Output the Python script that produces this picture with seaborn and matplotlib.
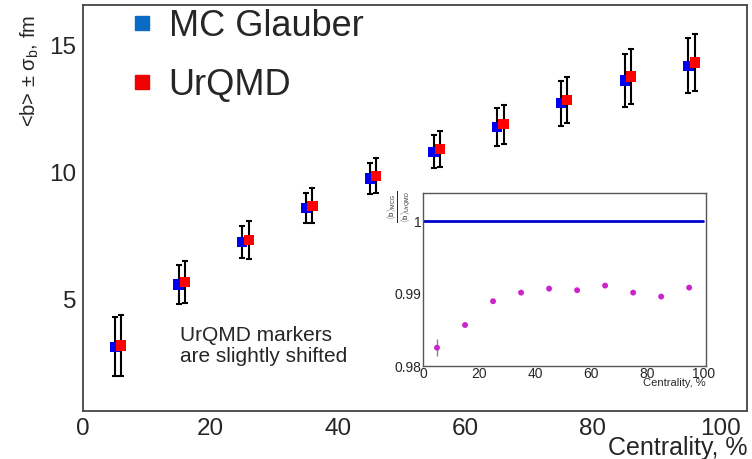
import numpy as np
import pandas as pd
import seaborn as sns
from matplotlib import pyplot as plt
from matplotlib.ticker import MultipleLocator
from matplotlib.lines import Line2D

# centrality bin centres, %
centrality = [5, 15, 25, 35, 45, 55, 65, 75, 85, 95]
urqmd_shift = 1.0

# <b> and sigma_b, fm
b_mcg = [3.13, 5.59, 7.26, 8.60, 9.76, 10.82, 11.80, 12.73, 13.63, 14.21]
sig_mcg = [1.17, 0.76, 0.63, 0.60, 0.60, 0.66, 0.75, 0.89, 1.05, 1.08]
b_urqmd = [3.18, 5.68, 7.34, 8.68, 9.87, 10.92, 11.91, 12.86, 13.78, 14.34]
sig_urqmd = [1.22, 0.84, 0.74, 0.69, 0.69, 0.70, 0.77, 0.92, 1.08, 1.11]

# ratio <b>_MCG / <b>_UrQMD
ratio = [0.98253, 0.98567, 0.98895, 0.99014, 0.99069, 0.99047, 0.99111, 0.99014, 0.98959, 0.99083]
ratio_err = [0.0012, 0.0003, 0.0002, 0.0001, 0.0001, 0.0001, 0.0001, 0.0001, 0.0001, 0.0001]

sns.set_style('white')
plt.rcParams['font.family'] = ['Liberation Sans', 'DejaVu Sans']
plt.rcParams['mathtext.fontset'] = 'custom'
plt.rcParams['mathtext.rm'] = 'Liberation Sans'
plt.rcParams['mathtext.it'] = 'Liberation Sans'

df = pd.DataFrame({
    'c': centrality + [c + urqmd_shift for c in centrality],
    'b': b_mcg + b_urqmd,
    'err': sig_mcg + sig_urqmd,
    'model': ['MC Glauber'] * len(centrality) + ['UrQMD'] * len(centrality),
})

fig = plt.figure(figsize=(7.52, 4.59), dpi=100)
ax = fig.add_axes([0.1104, 0.1046, 0.883, 0.8844])

ax.errorbar(df['c'], df['b'], yerr=df['err'], fmt='none', ecolor='black',
            elinewidth=1.5, capsize=2, capthick=1.5, zorder=2)
sns.scatterplot(data=df, x='c', y='b', hue='model', palette={'MC Glauber': '#0000ee', 'UrQMD': '#ff0000'},
                marker='s', s=55, edgecolor='none', legend=False, ax=ax, zorder=3)

ax.set_xlim(0, 104.2)
ax.set_ylim(0.6, 16.6)
ax.xaxis.set_major_locator(MultipleLocator(20))
ax.xaxis.set_minor_locator(MultipleLocator(10))
ax.yaxis.set_major_locator(MultipleLocator(5))
ax.yaxis.set_minor_locator(MultipleLocator(1))
ax.tick_params(which='both', direction='in', top=False, right=False, color='#333333', width=1.3)
ax.tick_params(which='major', length=14, labelsize=17.5, pad=5)
ax.tick_params(which='minor', length=7)
for sp in ax.spines.values():
    sp.set_color('#444444')
    sp.set_linewidth(1.3)

ax.set_xlabel('Centrality, %', fontsize=18)
ax.xaxis.set_label_coords(1.0, -0.09)
ax.xaxis.label.set_ha('right')
ax.xaxis.label.set_va('center')
ax.set_ylabel('<b> ± σ$_b$, fm', fontsize=14.5)
ax.yaxis.set_label_coords(-0.08, 0.975)
ax.yaxis.label.set_ha('right')
ax.yaxis.label.set_va('center')

handles = [Line2D([], [], marker='s', ls='none', color='#0a6bc4', markersize=10),
           Line2D([], [], marker='s', ls='none', color='#f00000', markersize=10)]
ax.legend(handles, ['MC Glauber', 'UrQMD'], loc='upper left', bbox_to_anchor=(0.023, 1.07),
          frameon=False, fontsize=26, handlelength=0.6, handletextpad=0.45, labelspacing=0.65)

ax.text(0.146, 0.21, 'UrQMD markers\nare slightly shifted', transform=ax.transAxes,
        fontsize=15, va='top', ha='left', linespacing=1.15)

# inset with the ratio
ins = fig.add_axes([0.5625, 0.2026, 0.3763, 0.3769])
ins.axhline(1.0, xmin=0, xmax=100 / 101, color='#0000cc', lw=2)
ins.errorbar(centrality, ratio, yerr=ratio_err, fmt='none', ecolor='#888888', elinewidth=1)
sns.scatterplot(x=centrality, y=ratio, color='#cc22cc', s=18, edgecolor='none', ax=ins, zorder=3)
ins.set_xlim(0, 101)
ins.set_ylim(0.98, 1.0039)
ins.xaxis.set_major_locator(MultipleLocator(20))
ins.xaxis.set_minor_locator(MultipleLocator(10))
ins.yaxis.set_major_locator(MultipleLocator(0.01))
ins.yaxis.set_minor_locator(MultipleLocator(0.002))
ins.yaxis.set_major_formatter(plt.FuncFormatter(lambda v, p: f'{v:g}'))
ins.tick_params(which='both', direction='in', top=False, right=False, color='#333333', width=0.8)
ins.tick_params(which='major', length=9, labelsize=10, pad=1)
ins.tick_params(which='minor', length=5)
for sp in ins.spines.values():
    sp.set_color('#555555')
    sp.set_linewidth(1)
ins.set_xlabel('Centrality, %', fontsize=8)
ins.xaxis.set_label_coords(1.0, -0.1)
ins.xaxis.label.set_ha('right')
ins.xaxis.label.set_va('center')
ins.set_ylabel(r'$\frac{\langle b\rangle_{MCG}}{\langle b\rangle_{UrQMD}}$', fontsize=8)
ins.yaxis.set_label_coords(-0.085, 0.92)
ins.yaxis.label.set_va('center')

fig.savefig('out.png', dpi=100)
